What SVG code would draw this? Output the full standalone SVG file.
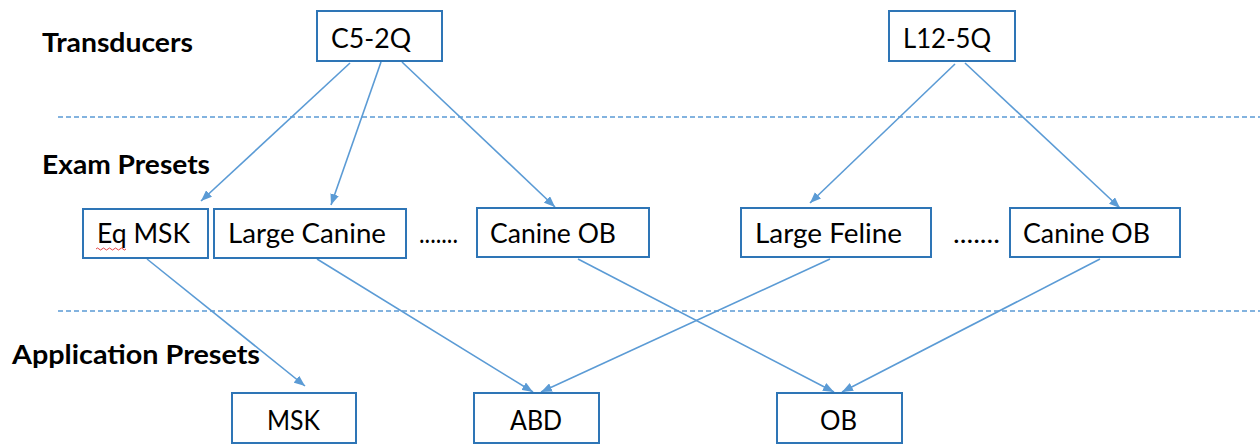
<svg xmlns="http://www.w3.org/2000/svg" width="1260" height="444" viewBox="0 0 1260 444">
<style>
.box{fill:#fff;stroke:#2E75B6;stroke-width:2}
.t{font-family:Lato,"Open Sans","Liberation Sans",sans-serif;font-size:26px;fill:#000}
.h{font-family:Lato,"Open Sans","Liberation Sans",sans-serif;font-size:26px;font-weight:bold;fill:#000}
.c{stroke:#5B9BD5;stroke-width:1.6;fill:none;marker-end:url(#ah)}
.d{stroke:#5B9BD5;stroke-width:1.6;stroke-dasharray:5 3;fill:none}
</style>
<defs>
<marker id="ah" viewBox="0 0 10 8" refX="10" refY="4" markerWidth="11" markerHeight="9" markerUnits="userSpaceOnUse" orient="auto">
<path d="M0,0 L10,4 L0,8 z" fill="#5B9BD5"/>
</marker>
</defs>
<rect width="1260" height="444" fill="#fff"/>
<g id="labels">
<text class="h" x="42" y="52" textLength="151" lengthAdjust="spacingAndGlyphs">Transducers</text>
<text class="h" x="42" y="174" textLength="168" lengthAdjust="spacingAndGlyphs">Exam Presets</text>
<text class="h" x="12" y="364" textLength="248" lengthAdjust="spacingAndGlyphs">Application Presets</text>
</g>
<g id="separators">
<line class="d" x1="58" y1="117" x2="1260" y2="117"/>
<line class="d" x1="58" y1="311" x2="1260" y2="311"/>
</g>
<g id="connectors">
<line class="c" x1="350" y1="63" x2="201" y2="201"/>
<line class="c" x1="381" y1="62" x2="331" y2="205"/>
<line class="c" x1="402" y1="62" x2="555" y2="207"/>
<line class="c" x1="955" y1="64" x2="810" y2="203"/>
<line class="c" x1="965" y1="63" x2="1120" y2="208"/>
<line class="c" x1="147" y1="259" x2="305" y2="386"/>
<line class="c" x1="317" y1="259" x2="533" y2="392"/>
<line class="c" x1="830" y1="259" x2="541" y2="392"/>
<line class="c" x1="578" y1="259" x2="834" y2="392"/>
<line class="c" x1="1100" y1="259" x2="842" y2="392"/>
</g>
<g id="n-c52q">
<rect class="box" x="317" y="11" width="125" height="50"/>
<text class="t" x="331" y="48" textLength="80" lengthAdjust="spacingAndGlyphs">C5-2Q</text>
</g>
<g id="n-l125q">
<rect class="box" x="889" y="11" width="126" height="50"/>
<text class="t" x="903" y="48" textLength="88" lengthAdjust="spacingAndGlyphs">L12-5Q</text>
</g>
<g id="n-eqmsk">
<rect class="box" x="83" y="209" width="125" height="49"/>
<text class="t" x="97" y="243" textLength="93" lengthAdjust="spacingAndGlyphs">Eq MSK</text>
<path d="M96,249 q1.5,-2 3,0 t3,0 t3,0 t3,0 t3,0 t3,0 t3,0 t3,0 t3,0 t3,0" fill="none" stroke="#e03030" stroke-width="0.9"/>
</g>
<g id="n-largecanine">
<rect class="box" x="214" y="209" width="192" height="49"/>
<text class="t" x="228" y="243" textLength="158" lengthAdjust="spacingAndGlyphs">Large Canine</text>
</g>
<g id="dots1"><text class="t" x="419" y="243" textLength="39" lengthAdjust="spacingAndGlyphs">.......</text></g>
<g id="n-canineob1">
<rect class="box" x="477" y="208" width="172" height="49"/>
<text class="t" x="490" y="243" textLength="126" lengthAdjust="spacingAndGlyphs">Canine OB</text>
</g>
<g id="n-largefeline">
<rect class="box" x="741" y="208" width="190" height="49"/>
<text class="t" x="755" y="243" textLength="147" lengthAdjust="spacingAndGlyphs">Large Feline</text>
</g>
<g id="dots2"><text class="t" x="953" y="243" textLength="47" lengthAdjust="spacingAndGlyphs">.......</text></g>
<g id="n-canineob2">
<rect class="box" x="1010" y="208" width="170" height="49"/>
<text class="t" x="1023" y="243" textLength="127" lengthAdjust="spacingAndGlyphs">Canine OB</text>
</g>
<g id="n-msk">
<rect class="box" x="232" y="393" width="124" height="50"/>
<text class="t" x="267" y="430" textLength="53" lengthAdjust="spacingAndGlyphs">MSK</text>
</g>
<g id="n-abd">
<rect class="box" x="474" y="393" width="125" height="50"/>
<text class="t" x="510" y="430" textLength="52" lengthAdjust="spacingAndGlyphs">ABD</text>
</g>
<g id="n-ob">
<rect class="box" x="777" y="393" width="125" height="50"/>
<text class="t" x="820" y="430" textLength="37" lengthAdjust="spacingAndGlyphs">OB</text>
</g>
</svg>
